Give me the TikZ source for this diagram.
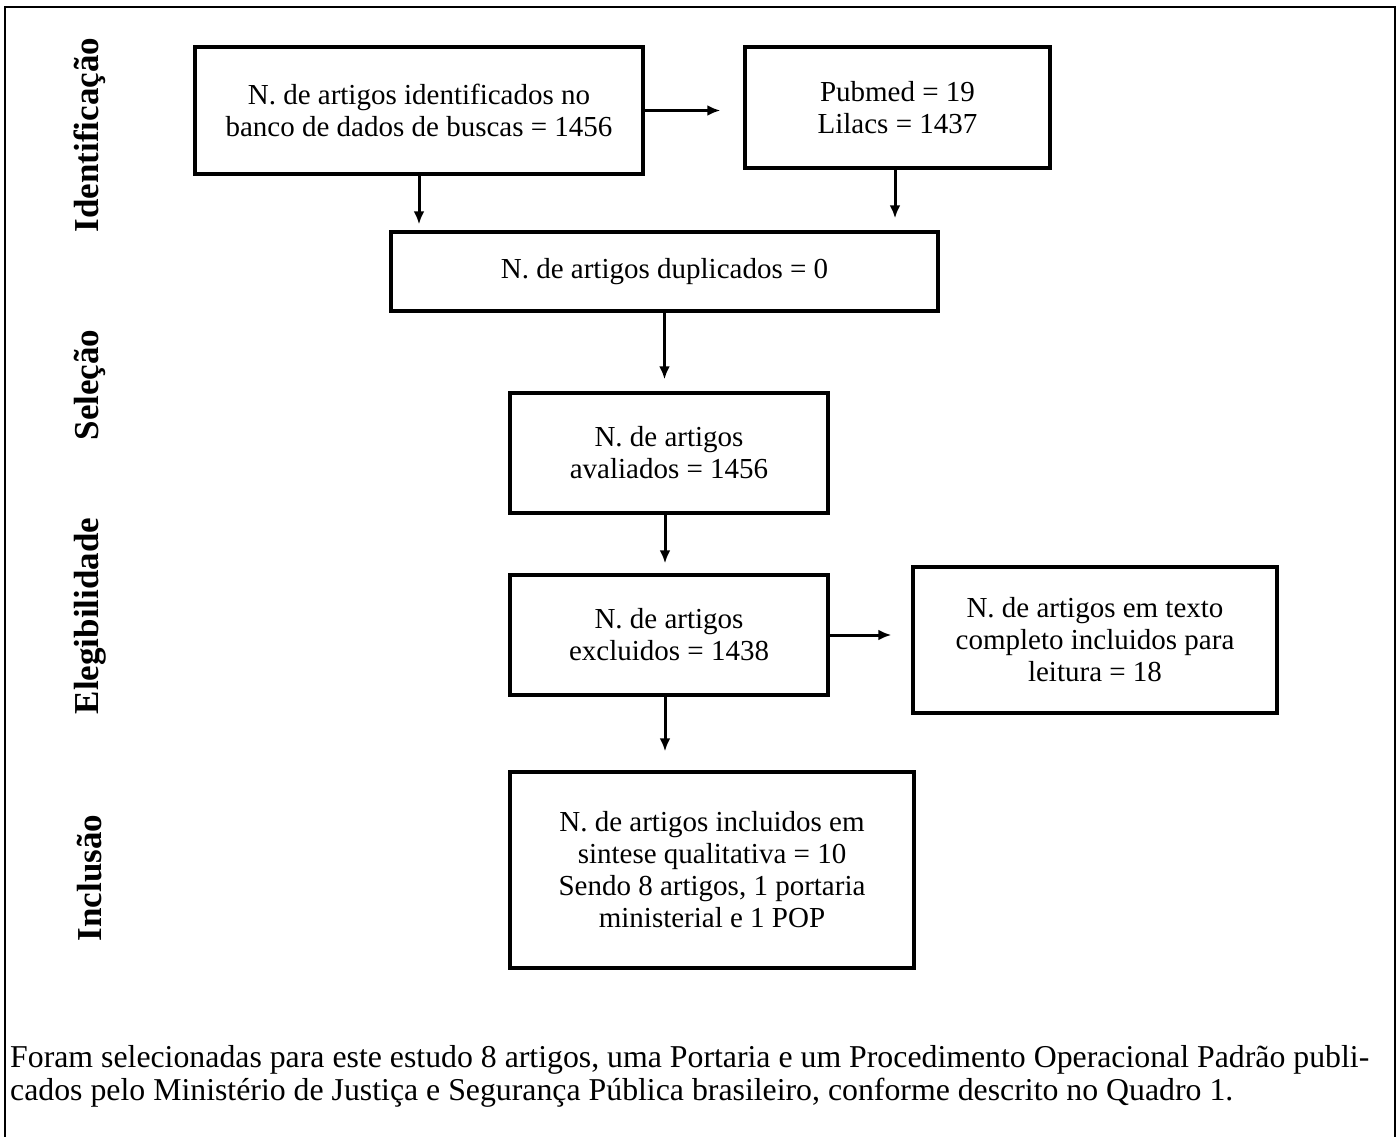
\documentclass[tikz,border=0pt]{standalone}
\usepackage{fontspec}
\setmainfont{Liberation Serif}
\usetikzlibrary{arrows.meta}
\begin{document}
\begin{tikzpicture}[x=1pt,y=-1pt,
  box/.style={draw, line width=3.5pt, align=center, inner sep=0pt,
    font=\fontsize{29}{32}\selectfont},
  arr/.style={line width=3pt, -{Latex[length=13pt,width=11pt]}},
  side/.style={rotate=90, font=\bfseries\fontsize{35}{38}\selectfont},
  captext/.style={anchor=base west, inner sep=0pt, font=\fontsize{31.8}{33}\selectfont}]
\useasboundingbox (0,0) rectangle (1400,1137);
\draw[line width=2.5pt] (5,1137) -- (5,7) -- (1395,7) -- (1395,1137);

\node[box, minimum width=448pt, minimum height=127pt] (A) at (419,110.5)
  {N. de artigos identificados no\\banco de dados de buscas = 1456};
\node[box, minimum width=305pt, minimum height=121pt] (B) at (897.5,107.5)
  {Pubmed = 19\\Lilacs = 1437};
\node[box, minimum width=547pt, minimum height=79pt] (C) at (664.5,271.5)
  {N. de artigos duplicados = 0};
\node[box, minimum width=318pt, minimum height=120pt] (D) at (669,453)
  {N. de artigos\\avaliados = 1456};
\node[box, minimum width=318pt, minimum height=120pt] (E) at (669,635)
  {N. de artigos\\excluidos = 1438};
\node[box, minimum width=364pt, minimum height=146pt] (F) at (1095,640)
  {N. de artigos em texto\\completo incluidos para\\leitura = 18};
\node[box, minimum width=404pt, minimum height=196pt] (G) at (712,870)
  {N. de artigos incluidos em\\sintese qualitativa = 10\\Sendo 8 artigos, 1 portaria\\ministerial e 1 POP};

\draw[arr, shorten >=23pt] (A.east) -- (B.west |- A.east);
\draw[arr, shorten >=6pt] (A.south) -- (A.south |- C.north);
\draw[arr, shorten >=12pt] ([xshift=-2.5pt]B.south) -- ([xshift=-2.5pt]B.south |- C.north);
\draw[arr, shorten >=12pt] (C.south) -- (C.south |- D.north);
\draw[arr, shorten >=10pt] ([xshift=-4pt]D.south) -- ([xshift=-4pt]D.south |- E.north);
\draw[arr, shorten >=20pt] (E.east) -- (F.west |- E.east);
\draw[arr, shorten >=19pt] ([xshift=-4pt]E.south) -- ([xshift=-4pt]E.south |- G.north);

\node[side] (s1) at (90,135) {Identificação};
\node[side] (s2) at (90,385) {Seleção};
\node[side] (s3) at (90,616) {Elegibilidade};
\node[side] (s4) at (90,878) {Inclusão};

\node[captext] (c1) at (10,1067) {Foram selecionadas para este estudo 8 artigos, uma Portaria e um Procedimento Operacional Padrão publi-};
\node[captext] (c2) at (10,1100) {cados pelo Ministério de Justiça e Segurança Pública brasileiro, conforme descrito no Quadro 1.};
\end{tikzpicture}
\end{document}
